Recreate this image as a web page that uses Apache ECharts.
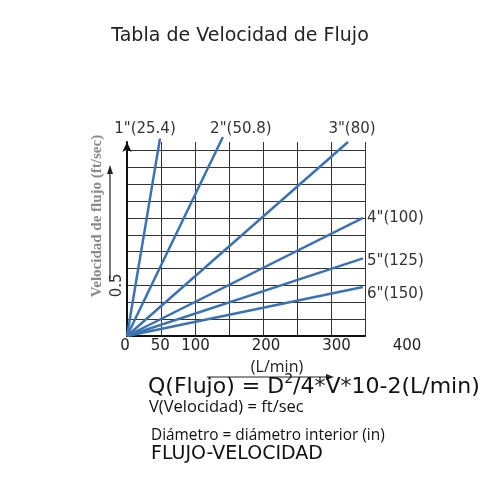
<!DOCTYPE html>
<html>
<head>
<meta charset="utf-8">
<script src="https://cdn.jsdelivr.net/npm/echarts@6/dist/echarts.min.js"></script>
<style>
  html, body { margin: 0; padding: 0; background: #fff; }
  #chart { width: 500px; height: 500px; }
</style>
</head>
<body>
<div id="chart"></div>
<script>
// pipe sizes and where each line ends (flow in L/min, velocity in grid units)
const pipeNames = ['1"(25.4)', '2"(50.8)', '3"(80)', '4"(100)', '5"(125)', '6"(150)'];
const endFlow = [48.5, 141, 325, 347, 347, 347];
const endVel = [11.7, 11.8, 11.5, 7.0, 4.6, 2.9];
const xTickLabels = [0, 50, 100, 200, 300, 400];
const yTickLabel = { value: 3, text: '0.5' };

const chart = echarts.init(document.getElementById('chart'));

// label placement next to line ends
const labelPos = [
  { align: 'center', offset: [-15, -10] },
  { align: 'center', offset: [18, -8] },
  { align: 'center', offset: [4, -13] },
  { align: 'left', offset: [4, 0] },
  { align: 'left', offset: [4, 3] },
  { align: 'left', offset: [4, 7] }
];

const series = pipeNames.map(function (name, i) {
  return {
    name: name,
    type: 'line',
    xAxisIndex: 0,
    yAxisIndex: 0,
    clip: false,
    showSymbol: false,
    silent: true,
    lineStyle: { color: '#3b72b2', width: 2.5 },
    data: [[0, 0], [endFlow[i], endVel[i]]],
    endLabel: {
      show: true,
      formatter: name,
      distance: 0,
      align: labelPos[i].align,
      verticalAlign: 'middle',
      offset: labelPos[i].offset,
      fontFamily: 'DejaVu Sans',
      fontSize: 15,
      color: '#333'
    }
  };
});

const option = {
  animation: false,
  grid: [
    { left: 127, right: 135, top: 142, bottom: 164 },
    { left: 125, width: 282, top: 142, bottom: 164 }
  ],
  xAxis: [
    {
      gridIndex: 0,
      type: 'value',
      min: 0,
      max: 350,
      interval: 50,
      axisLine: { lineStyle: { color: '#111', width: 2 } },
      axisTick: { show: false },
      axisLabel: { show: false },
      splitLine: { show: true, lineStyle: { color: '#333', width: 1 } }
    },
    {
      gridIndex: 1,
      type: 'value',
      min: 0,
      max: 400,
      interval: 50,
      axisLine: { show: false },
      axisTick: { show: false },
      splitLine: { show: false },
      axisLabel: {
        margin: 3,
        fontFamily: 'DejaVu Sans',
        fontSize: 15,
        color: '#222',
        formatter: function (v) {
          return xTickLabels.indexOf(v) >= 0 ? String(v) : '';
        }
      }
    }
  ],
  yAxis: [
    {
      gridIndex: 0,
      type: 'value',
      min: 0,
      max: 11.5,
      interval: 1,
      axisLine: {
        show: true,
        symbol: ['none', 'arrow'],
        symbolSize: [7, 10],
        lineStyle: { color: '#111', width: 2 }
      },
      axisTick: { show: false },
      splitLine: { show: true, showMaxLine: false, lineStyle: { color: '#333', width: 1 } },
      axisLabel: {
        rotate: 90,
        margin: 2,
        fontFamily: 'DejaVu Sans',
        fontSize: 15,
        color: '#333',
        formatter: function (v) {
          return v === yTickLabel.value ? yTickLabel.text : '';
        }
      }
    },
    {
      gridIndex: 1,
      type: 'value',
      show: false
    }
  ],
  graphic: [
    {
      type: 'text',
      x: 240, y: 36,
      style: {
        text: 'Tabla de Velocidad de Flujo',
        font: '19px "DejaVu Sans"',
        fill: '#222',
        textAlign: 'center',
        textVerticalAlign: 'middle'
      }
    },
    {
      type: 'text',
      x: 97, y: 216,
      rotation: Math.PI / 2,
      style: {
        text: 'Velocidad de flujo (ft/sec)',
        font: 'bold 15px "Liberation Serif"',
        fill: '#8a8a8a',
        textAlign: 'center',
        textVerticalAlign: 'middle'
      }
    },
    {
      type: 'line',
      shape: { x1: 110, y1: 172, x2: 110, y2: 279 },
      style: { stroke: '#222', lineWidth: 1.2 }
    },
    {
      type: 'polygon',
      shape: { points: [[110, 165], [107, 174], [113, 174]] },
      style: { fill: '#222' }
    },
    {
      type: 'text',
      x: 277, y: 367,
      style: {
        text: '(L/min)',
        font: '16px "Open Sans"',
        fill: '#222',
        textAlign: 'center',
        textVerticalAlign: 'middle'
      }
    },
    {
      type: 'line',
      shape: { x1: 207, y1: 377, x2: 328, y2: 377 },
      style: { stroke: '#222', lineWidth: 1 }
    },
    {
      type: 'polygon',
      shape: { points: [[334, 377], [326, 374], [326, 380]] },
      style: { fill: '#222' }
    },
    {
      type: 'text',
      x: 148, y: 385,
      style: {
        text: '{a|Q(Flujo) = D}{s|2}{a|/4*V*10-2(L/min)}',
        textVerticalAlign: 'middle',
        rich: {
          a: { fontFamily: 'DejaVu Sans', fontSize: 22, fill: '#111', lineHeight: 26, verticalAlign: 'bottom' },
          s: { fontFamily: 'DejaVu Sans', fontSize: 14, fill: '#111', lineHeight: 14, verticalAlign: 'top' }
        }
      }
    },
    {
      type: 'text',
      x: 149, y: 407,
      style: {
        text: 'V(Velocidad) = ft/sec',
        font: '16.5px "Open Sans"',
        fill: '#111',
        textVerticalAlign: 'middle'
      }
    },
    {
      type: 'text',
      x: 151, y: 436,
      style: {
        text: 'Diámetro = diámetro interior (in)',
        font: '15.4px "Open Sans"',
        fill: '#111',
        textVerticalAlign: 'middle'
      }
    },
    {
      type: 'text',
      x: 151, y: 454,
      style: {
        text: 'FLUJO-VELOCIDAD',
        font: '19px "DejaVu Sans"',
        fill: '#111',
        textVerticalAlign: 'middle'
      }
    }
  ],
  series: series
};

chart.setOption(option);
</script>
</body>
</html>
